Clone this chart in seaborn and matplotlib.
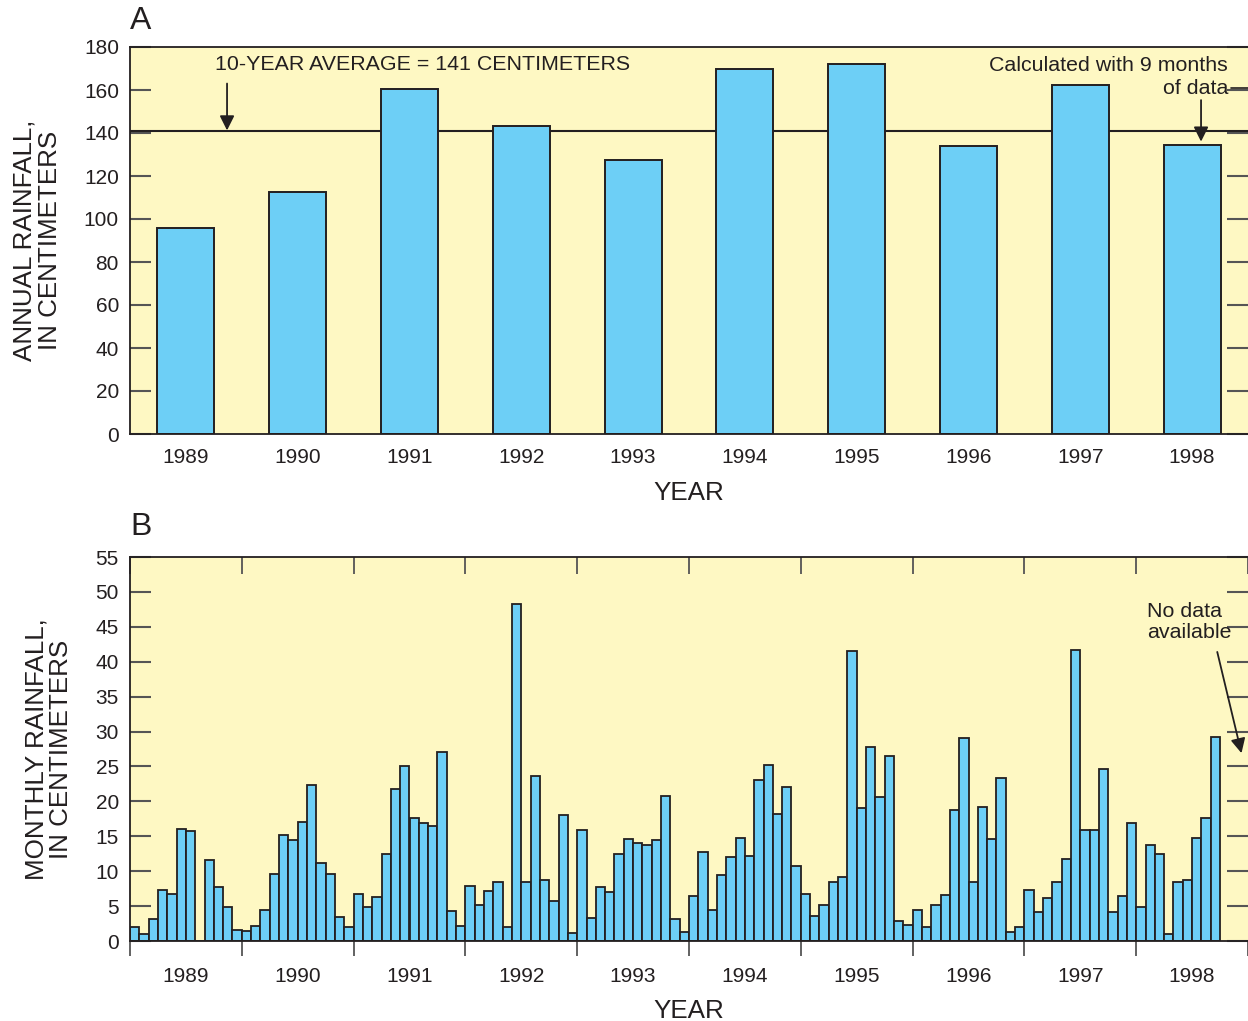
import numpy as np
import pandas as pd
import matplotlib
matplotlib.use("Agg")
import matplotlib.pyplot as plt
import seaborn as sns

# ---------------- data ----------------
years = ["1989", "1990", "1991", "1992", "1993", "1994", "1995", "1996", "1997", "1998"]
annual_rain = [96, 112.6, 160.5, 143.3, 127.4, 169.8, 172.1, 134.0, 162.3, 134.4]
ten_year_avg = 141

monthly_1989 = [2.0, 1.0, 3.2, 7.3, 6.8, 16.0, 15.7, 0.0, 11.6, 7.7, 4.9, 1.6]
monthly_1990 = [1.4, 2.2, 4.5, 9.6, 15.2, 14.5, 17.1, 22.4, 11.2, 9.6, 3.5, 2.0]
monthly_1991 = [6.8, 4.9, 6.3, 12.4, 21.7, 25.0, 17.6, 16.9, 16.5, 27.1, 4.3, 2.1]
monthly_1992 = [7.9, 5.1, 7.2, 8.4, 2.0, 48.2, 8.5, 23.7, 8.7, 5.7, 18.0, 1.1]
monthly_1993 = [15.9, 3.3, 7.7, 7.0, 12.5, 14.6, 14.1, 13.7, 14.5, 20.7, 3.2, 1.3]
monthly_1994 = [6.4, 12.7, 4.5, 9.4, 12.0, 14.8, 12.2, 23.0, 25.2, 18.2, 22.0, 10.7]
monthly_1995 = [6.7, 3.6, 5.2, 8.5, 9.1, 41.5, 19.1, 27.8, 20.6, 26.5, 2.8, 2.3]
monthly_1996 = [4.5, 2.0, 5.1, 6.6, 18.8, 29.1, 8.5, 19.2, 14.6, 23.4, 1.3, 2.0]
monthly_1997 = [7.3, 4.2, 6.1, 8.4, 11.7, 41.7, 15.9, 15.9, 24.7, 4.2, 6.5, 16.9]
monthly_1998 = [4.8, 13.8, 12.5, 1.0, 8.5, 8.7, 14.8, 17.6, 29.2, np.nan, np.nan, np.nan]

monthly = (monthly_1989 + monthly_1990 + monthly_1991 + monthly_1992 + monthly_1993 +
           monthly_1994 + monthly_1995 + monthly_1996 + monthly_1997 + monthly_1998)

# ---------------- style ----------------
sns.set_theme(style="ticks")
plt.rcParams['font.family'] = ['Liberation Sans', 'DejaVu Sans']

BG = "#FEF8C3"
BAR = "#6DCFF6"
EDGE = "#231F20"
TXT = "#231F20"
TICKC = "#555555"
TICKFS = 15
LABFS = 18.7
ANNFS = 15.4

W, H = 1248, 1021
fig = plt.figure(figsize=(W / 100, H / 100), dpi=100)

def fbox(l, t, r, b):
    return [l / W, 1 - b / H, (r - l) / W, (b - t) / H]

axA = fig.add_axes(fbox(130, 47, 1248, 434))
axB = fig.add_axes(fbox(130, 557, 1248, 941))

for ax in (axA, axB):
    ax.set_facecolor(BG)
    for s in ("left", "bottom", "top"):
        ax.spines[s].set_color(TXT)
        ax.spines[s].set_linewidth(1.3)
    ax.spines["right"].set_visible(False)

# ---------------- panel A ----------------
dfA = pd.DataFrame({"year": years, "rain": annual_rain})
axA.axhline(ten_year_avg, color=TXT, lw=1.5, zorder=1)
sns.barplot(data=dfA, x="year", y="rain", ax=axA, color=BAR, saturation=1,
            edgecolor=EDGE, linewidth=1.4, width=0.51, errorbar=None, zorder=2)
axA.set_xlim(-0.5, 9.5)
axA.set_ylim(0, 180)
axA.set_yticks(np.arange(0, 181, 20))
axA.tick_params(axis="y", direction="in", left=True, right=True, length=15,
                width=1.5, color=TICKC, labelsize=TICKFS, pad=8, labelcolor=TXT)
axA.tick_params(axis="x", length=0, labelsize=TICKFS, pad=10, labelcolor=TXT)
axA.set_xlabel("YEAR", fontsize=LABFS, color=TXT, labelpad=10)
axA.set_ylabel("ANNUAL RAINFALL,\nIN CENTIMETERS", fontsize=LABFS, color=TXT,
               labelpad=16, linespacing=1.05)

axA.text(0.26, 171.8, "10-YEAR AVERAGE = 141 CENTIMETERS", fontsize=ANNFS,
         color=TXT, ha="left", va="center")
axA.annotate("", xy=(0.368, 141.2), xytext=(0.368, 163),
             arrowprops=dict(arrowstyle="-|>", color=TXT, lw=1.3, mutation_scale=22,
                             shrinkA=0, shrinkB=0))
axA.text(9.32, 171.6, "Calculated with 9 months", fontsize=ANNFS, color=TXT,
         ha="right", va="center")
axA.text(9.32, 160.6, "of data", fontsize=ANNFS, color=TXT, ha="right", va="center")
axA.plot([9.345, 9.5], [160.9, 160.9], color=TXT, lw=1.2)
axA.annotate("", xy=(9.08, 136.0), xytext=(9.08, 155.3),
             arrowprops=dict(arrowstyle="-|>", color=TXT, lw=1.3, mutation_scale=22,
                             shrinkA=0, shrinkB=0))

fig.text(130 / W, 1 - 21 / H, "A", fontsize=23, color=TXT, ha="left", va="center")

# ---------------- panel B ----------------
idx = list(range(len(monthly)))
dfB = pd.DataFrame({"month": idx, "rain": monthly}).dropna()
sns.barplot(data=dfB, x="month", y="rain", order=idx, ax=axB, color=BAR,
            saturation=1, edgecolor=EDGE, linewidth=1.3, width=1.0,
            errorbar=None, zorder=2)
axB.set_xlim(-0.5, len(monthly) - 0.5)
axB.set_ylim(0, 55)
axB.set_yticks(np.arange(0, 56, 5))
axB.tick_params(axis="y", direction="in", left=True, right=True, length=15,
                width=1.5, color=TICKC, labelsize=TICKFS, pad=8, labelcolor=TXT)

bounds = [-0.5 + 12 * i for i in range(11)]
centers = [5.5 + 12 * i for i in range(10)]
axB.set_xticks(bounds)
axB.set_xticklabels([])
axB.set_xticks(centers, minor=True)
axB.set_xticklabels(years, minor=True)
axB.tick_params(axis="x", which="major", direction="out", length=11, width=1.3,
                color=TICKC, bottom=True, top=False)
axB.tick_params(axis="x", which="minor", length=0, labelsize=TICKFS, pad=19,
                labelcolor=TXT)
secx = axB.secondary_xaxis("top")
secx.set_xticks(bounds)
secx.set_xticklabels([])
secx.tick_params(direction="in", length=12, width=1.3, color=TICKC)
secx.spines["top"].set_visible(False)

axB.set_xlabel("YEAR", fontsize=LABFS, color=TXT, labelpad=9)
axB.set_ylabel("MONTHLY RAINFALL,\nIN CENTIMETERS", fontsize=LABFS, color=TXT,
               labelpad=16, linespacing=1.05)

axB.text(108.7, 45.7, "No data\navailable", fontsize=ANNFS, color=TXT,
         ha="left", va="center", linespacing=1.1)
axB.annotate("", xy=(118.8, 26.9), xytext=(116.2, 41.4),
             arrowprops=dict(arrowstyle="-|>", color=TXT, lw=1.3, mutation_scale=22,
                             shrinkA=0, shrinkB=0))

fig.text(130 / W, 1 - 527 / H, "B", fontsize=23, color=TXT, ha="left", va="center")

fig.savefig("out.png", dpi=100, facecolor="white")
